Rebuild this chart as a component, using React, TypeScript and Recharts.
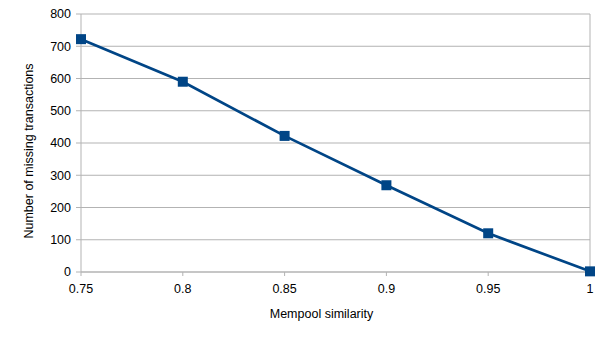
import React from 'react';
import {
  LineChart,
  Line,
  XAxis,
  YAxis,
  CartesianGrid,
  ReferenceLine,
} from 'recharts';

// values
const similarity = [0.75, 0.8, 0.85, 0.9, 0.95, 1];
const missingTx = [722, 590, 422, 269, 120, 2];
const xTicks = [0.75, 0.8, 0.85, 0.9, 0.95, 1];
const yTicks = [0, 100, 200, 300, 400, 500, 600, 700, 800];

const LINE_COLOR = '#004586';
const GRID_COLOR = '#b3b3b3';
const FONT = '"Liberation Sans", Arial, sans-serif';
const FONT_SIZE = 12.5;

const chartData = similarity.map((s, i) => ({ similarity: s, missing: missingTx[i] }));

const SquareDot = (props: any) => {
  const { cx, cy } = props;
  if (cx == null || cy == null) return null;
  const size = 10;
  return <rect x={cx - size / 2} y={cy - size / 2} width={size} height={size} fill={LINE_COLOR} />;
};

const XLabel = ({ viewBox }: any) => (
  <text
    x={viewBox.x + viewBox.width / 2 - 14}
    y={viewBox.y + 46}
    textAnchor="middle"
    fontSize={FONT_SIZE}
    fontFamily={FONT}
    fill="#000"
  >
    Mempool similarity
  </text>
);

const YLabel = ({ viewBox }: any) => {
  const x = 33;
  const y = viewBox.y + viewBox.height / 2 + 8;
  return (
    <text
      x={x}
      y={y}
      transform={`rotate(-90, ${x}, ${y})`}
      textAnchor="middle"
      fontSize={FONT_SIZE}
      fontFamily={FONT}
      fill="#000"
    >
      Number of missing transactions
    </text>
  );
};

export default function App() {
  return (
    <div style={{ position: 'absolute', top: 0, left: 0, width: 605, height: 340, background: '#fff' }}>
      <LineChart
        width={605}
        height={340}
        data={chartData}
        margin={{ top: 14, right: 15, left: 0, bottom: 0 }}
      >
        <CartesianGrid vertical={false} stroke={GRID_COLOR} strokeWidth={1} />
        <XAxis
          dataKey="similarity"
          type="number"
          domain={[0.75, 1]}
          ticks={xTicks}
          height={68}
          stroke={GRID_COLOR}
          tickSize={4}
          tickMargin={8}
          tick={{ fill: '#000', fontSize: FONT_SIZE, fontFamily: FONT }}
          label={<XLabel />}
        />
        <YAxis
          domain={[0, 800]}
          ticks={yTicks}
          width={81}
          stroke={GRID_COLOR}
          tickSize={5}
          tickMargin={5}
          tick={{ fill: '#000', fontSize: FONT_SIZE, fontFamily: FONT }}
          label={<YLabel />}
        />
        <ReferenceLine x={1} stroke={GRID_COLOR} />
        <Line
          type="linear"
          dataKey="missing"
          stroke={LINE_COLOR}
          strokeWidth={2.7}
          dot={<SquareDot />}
          activeDot={false}
          isAnimationActive={false}
        />
      </LineChart>
    </div>
  );
}
